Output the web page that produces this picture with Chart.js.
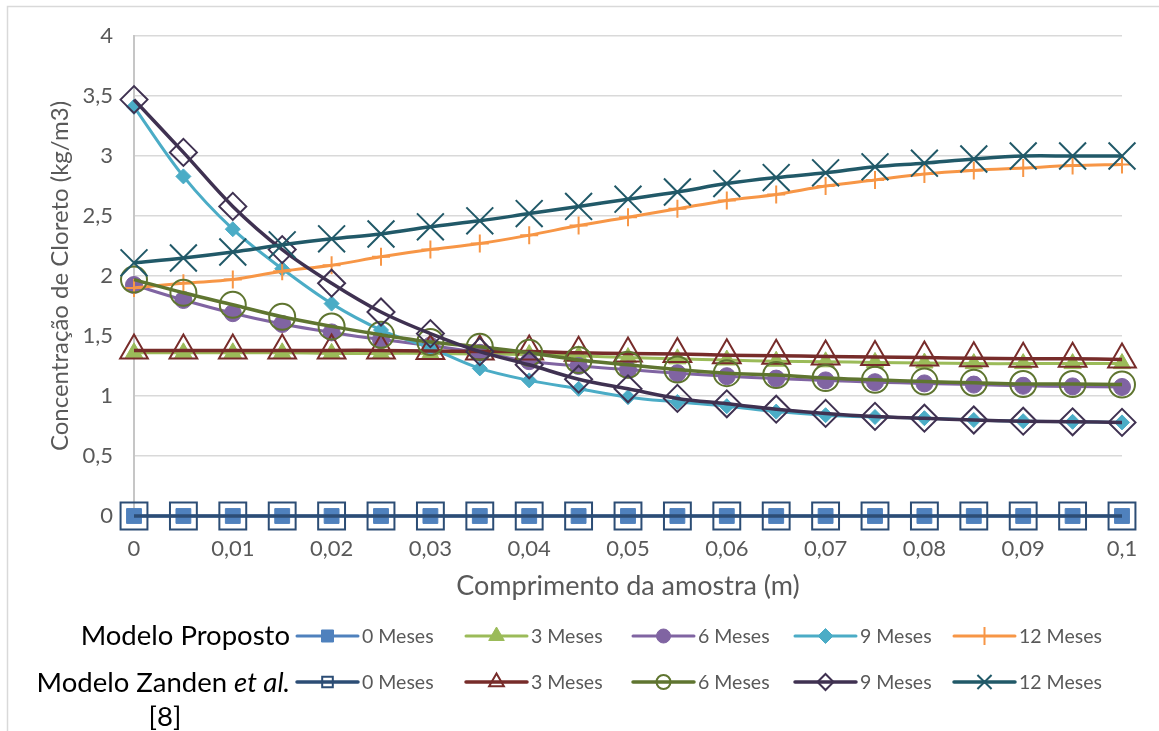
<!DOCTYPE html>
<html>
<head>
<meta charset="utf-8">
<script src="https://cdn.jsdelivr.net/npm/chart.js@4.4.1/dist/chart.umd.min.js"></script>
<style>
html,body{margin:0;padding:0;background:#ffffff;}
#wrap{width:1159px;height:731px;position:relative;overflow:hidden;}
</style>
</head>
<body>
<div id="wrap"><canvas id="c" width="1159" height="731"></canvas></div>
<script>
// ---------- data ----------
const xValues = [0,0.005,0.01,0.015,0.02,0.025,0.03,0.035,0.04,0.045,0.05,0.055,0.06,0.065,0.07,0.075,0.08,0.085,0.09,0.095,0.1];
const xTickValues = [0,0.01,0.02,0.03,0.04,0.05,0.06,0.07,0.08,0.09,0.1];
const xTickLabels = ['0','0,01','0,02','0,03','0,04','0,05','0,06','0,07','0,08','0,09','0,1'];
const yTickValues = [0,0.5,1,1.5,2,2.5,3,3.5,4];
const yTickLabels = ['0','0,5','1','1,5','2','2,5','3','3,5','4'];
const seriesNames = ['0 Meses','3 Meses','6 Meses','9 Meses','12 Meses'];
const xTitle = 'Comprimento da amostra (m)';
const yTitle = 'Concentração de Cloreto (kg/m3)';

// Modelo Proposto
const proposto0  = [0,0,0,0,0,0,0,0,0,0,0,0,0,0,0,0,0,0,0,0,0];
const proposto3  = [1.36,1.36,1.36,1.36,1.355,1.355,1.355,1.35,1.345,1.335,1.32,1.31,1.30,1.29,1.285,1.28,1.275,1.27,1.27,1.27,1.27];
const proposto6  = [1.925,1.80,1.69,1.60,1.53,1.47,1.42,1.36,1.29,1.25,1.22,1.19,1.165,1.145,1.13,1.115,1.105,1.095,1.085,1.08,1.075];
const proposto9  = [3.41,2.83,2.39,2.06,1.77,1.55,1.40,1.23,1.13,1.06,0.99,0.95,0.915,0.87,0.84,0.825,0.815,0.80,0.79,0.785,0.78];
const proposto12 = [1.90,1.94,1.97,2.04,2.09,2.16,2.22,2.27,2.34,2.42,2.49,2.56,2.63,2.68,2.75,2.80,2.85,2.88,2.90,2.92,2.93];
// Modelo Zanden et al. [8]
const zanden0  = [0,0,0,0,0,0,0,0,0,0,0,0,0,0,0,0,0,0,0,0,0];
const zanden3  = [1.38,1.38,1.38,1.38,1.38,1.38,1.375,1.37,1.37,1.36,1.355,1.35,1.34,1.335,1.33,1.325,1.32,1.315,1.31,1.31,1.305];
const zanden6  = [1.97,1.86,1.76,1.66,1.58,1.51,1.45,1.41,1.36,1.30,1.26,1.22,1.19,1.175,1.15,1.135,1.12,1.11,1.10,1.10,1.095];
const zanden9  = [3.47,3.03,2.58,2.22,1.94,1.70,1.52,1.37,1.26,1.14,1.06,0.98,0.935,0.89,0.855,0.83,0.815,0.80,0.79,0.785,0.78];
const zanden12 = [2.11,2.15,2.20,2.26,2.31,2.35,2.41,2.46,2.52,2.58,2.64,2.70,2.77,2.82,2.86,2.91,2.94,2.975,3.0,3.0,3.0];

// ---------- styles ----------
const FONT = 'Lato, "Open Sans", "Noto Sans", sans-serif';
const TEXT = '#595959';
const NONE = 'rgba(0,0,0,0)';
const styles = [
  {c:'#4f81bd', ps:'rect',     r:10.5, lr:8.5, fill:true,  bw:3,   pbw:1},
  {c:'#9bbb59', ps:'triangle', r:10,   lr:9,   fill:true,  bw:3,   pbw:1},
  {c:'#8064a2', ps:'circle',   r:8.5,  lr:7,   fill:true,  bw:3,   pbw:1},
  {c:'#4bacc6', ps:'rectRot',  r:7.5,  lr:7.5, fill:true,  bw:3,   pbw:1},
  {c:'#f79646', ps:'cross',    r:9,    lr:9,   fill:false, bw:3,   pbw:2},
  {c:'#2c4d75', ps:'rect',     r:19,   lr:7.5, fill:false, bw:3.5, pbw:2},
  {c:'#772c2a', ps:'triangle', r:16,   lr:8.5, fill:false, bw:3.5, pbw:2},
  {c:'#5f7530', ps:'circle',   r:13,   lr:7,   fill:false, bw:3.5, pbw:2},
  {c:'#3f3151', ps:'rectRot',  r:13.5, lr:8,   fill:false, bw:3.5, pbw:2},
  {c:'#215968', ps:'crossRot', r:19,   lr:10,  fill:false, bw:3.5, pbw:2}
];
const seriesValues = [proposto0,proposto3,proposto6,proposto9,proposto12,zanden0,zanden3,zanden6,zanden9,zanden12];

const datasets = seriesValues.map((vals, i) => {
  const s = styles[i];
  return {
    label: seriesNames[i % 5],
    data: vals.map((v, k) => ({x: xValues[k], y: v})),
    borderColor: s.c,
    borderWidth: s.bw,
    backgroundColor: s.c,
    pointStyle: s.ps,
    pointRadius: s.r,
    pointHoverRadius: s.r,
    pointBackgroundColor: s.fill ? s.c : NONE,
    pointBorderColor: s.c,
    pointBorderWidth: s.pbw,
    legendRadius: s.lr,
    tension: 0.35,
    fill: false,
    clip: false,
    order: 10 - i
  };
});

// ---------- plugins ----------
const frame = {
  id: 'frame',
  beforeDraw(chart) {
    const ctx = chart.ctx;
    ctx.save();
    ctx.fillStyle = '#ffffff';
    ctx.fillRect(0, 0, chart.width, chart.height);
    ctx.strokeStyle = '#d9d9d9';
    ctx.lineWidth = 1.5;
    ctx.strokeRect(7.5, 6.5, 1300, 900);
    ctx.restore();
  }
};

function drawMarker(ctx, ds, x, y, r) {
  ctx.fillStyle = ds.pointBackgroundColor;
  ctx.strokeStyle = ds.pointBorderColor;
  ctx.lineWidth = ds.pointBorderWidth;
  Chart.helpers.drawPoint(ctx, {pointStyle: ds.pointStyle, radius: r, rotation: 0, borderWidth: ds.pointBorderWidth}, x, y);
}

const excelLegend = {
  id: 'excelLegend',
  afterDraw(chart) {
    const ctx = chart.ctx;
    const rowsY = [636, 682];
    const itemX = [297, 466, 633, 795, 954];
    ctx.save();
    for (let row = 0; row < 2; row++) {
      for (let k = 0; k < 5; k++) {
        const ds = chart.data.datasets[row * 5 + k];
        const x0 = itemX[k], y = rowsY[row];
        ctx.strokeStyle = ds.borderColor;
        ctx.lineWidth = ds.borderWidth;
        ctx.lineCap = 'round';
        ctx.beginPath();
        ctx.moveTo(x0, y);
        ctx.lineTo(x0 + 61, y);
        ctx.stroke();
        ctx.lineCap = 'butt';
        drawMarker(ctx, ds, x0 + 30.5, y, ds.legendRadius);
        ctx.fillStyle = TEXT;
        ctx.font = '19.5px ' + FONT;
        ctx.textAlign = 'left';
        ctx.textBaseline = 'middle';
        ctx.fillText(ds.label, x0 + 65, y + 1);
      }
    }
    // row labels
    ctx.fillStyle = '#000000';
    ctx.textBaseline = 'middle';
    ctx.textAlign = 'right';
    ctx.font = '27.5px ' + FONT;
    ctx.fillText('Modelo Proposto', 290, 636);
    ctx.font = 'italic 27.5px ' + FONT;
    const it = 'et al.';
    const wIt = ctx.measureText(it).width;
    ctx.fillText(it, 290, 683);
    ctx.font = '27.5px ' + FONT;
    ctx.fillText('Modelo Zanden ', 290 - wIt, 683);
    ctx.textAlign = 'center';
    ctx.fillText('[8]', 165, 717);
    ctx.restore();
  }
};

// ---------- chart ----------
new Chart(document.getElementById('c'), {
  type: 'line',
  data: { datasets },
  options: {
    responsive: false,
    animation: false,
    devicePixelRatio: 1,
    events: [],
    layout: { padding: { top: 36, right: 37, bottom: 125, left: 0 } },
    plugins: { legend: { display: false }, tooltip: { enabled: false } },
    scales: {
      x: {
        type: 'linear',
        min: 0, max: 0.1,
        afterFit(scale) { scale.height = 90; },
        afterBuildTicks(scale) { scale.ticks = xTickValues.map(v => ({value: v})); },
        ticks: {
          autoSkip: false, maxRotation: 0,
          padding: 20,
          color: TEXT,
          font: { family: FONT, size: 22 },
          callback: (v, i) => xTickLabels[i]
        },
        grid: { display: false, drawTicks: false },
        border: { display: false },
        title: {
          display: true, text: xTitle, color: TEXT,
          font: { family: FONT, size: 27 },
          padding: { top: 0, bottom: 4 }
        }
      },
      y: {
        type: 'linear',
        min: 0, max: 4,
        afterFit(scale) { scale.width = 134; },
        afterBuildTicks(scale) { scale.ticks = yTickValues.map(v => ({value: v})); },
        ticks: {
          padding: 21,
          color: TEXT,
          font: { family: FONT, size: 22 },
          callback: (v, i) => yTickLabels[i]
        },
        grid: { color: '#d9d9d9', lineWidth: 1.5, drawTicks: false },
        border: { display: true, color: '#c6c6c6', width: 2 },
        title: {
          display: true, text: yTitle, color: TEXT,
          font: { family: FONT, size: 24 },
          padding: { top: 46, bottom: 0 }
        }
      }
    }
  },
  plugins: [frame, excelLegend]
});
</script>
</body>
</html>
